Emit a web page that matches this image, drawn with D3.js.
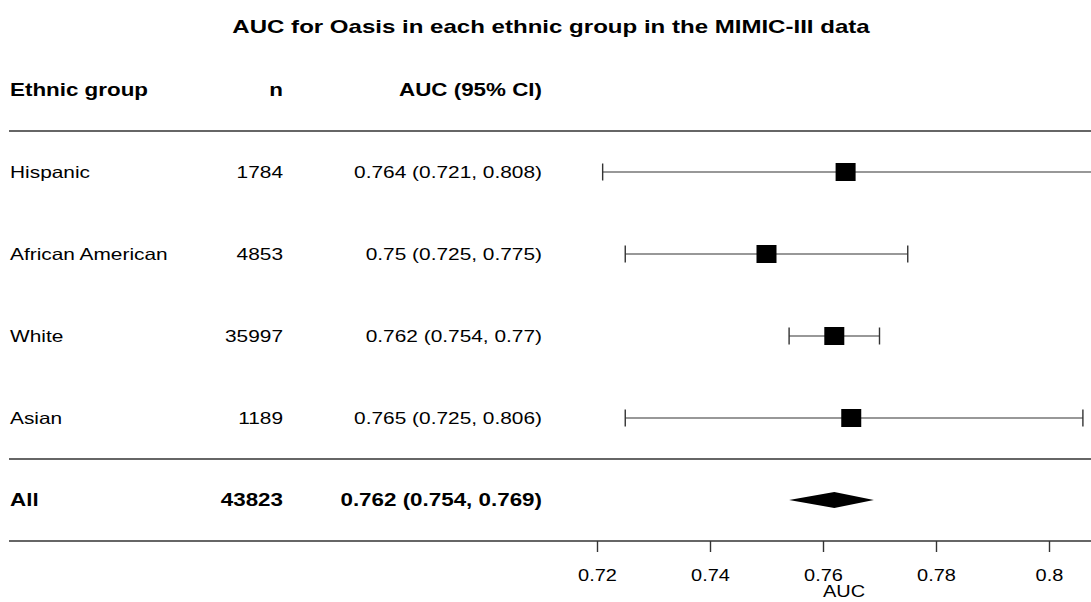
<!DOCTYPE html>
<html>
<head>
<meta charset="utf-8">
<script src="https://cdn.jsdelivr.net/npm/d3@7"></script>
<style>
  html, body { margin: 0; padding: 0; background: #fff; }
  svg { display: block; }
</style>
</head>
<body>
<div id="forest"></div>
<script>
////////////////////////////////////////////////////////////////////////////////
///////////////////////////////////////////////////////////////////////// Data
////////////////////////////////////////////////////////////////////////////////

const groups = ["Hispanic", "African American", "White", "Asian"];
const counts = [1784, 4853, 35997, 1189];
const auc = [0.764, 0.75, 0.762, 0.765];
const lower = [0.721, 0.725, 0.754, 0.725];
const upper = [0.808, 0.775, 0.77, 0.806];
const aucLabels = ["0.764 (0.721, 0.808)", "0.75 (0.725, 0.775)", "0.762 (0.754, 0.77)", "0.765 (0.725, 0.806)"];

// summary row
const totalLabel = "All";
const totalCount = 43823;
const totalAuc = 0.762;
const totalLower = 0.754;
const totalUpper = 0.769;
const totalAucLabel = "0.762 (0.754, 0.769)";

const headers = ["Ethnic group", "n", "AUC (95% CI)"];
const xTicks = [0.72, 0.74, 0.76, 0.78, 0.8];
const xTickLabels = ["0.72", "0.74", "0.76", "0.78", "0.8"];

////////////////////////////////////////////////////////////////////////////////
///////////////////////////////////////////////////////////////////////// Setup
////////////////////////////////////////////////////////////////////////////////

const width = 1091;
const height = 602;
const font = "'Liberation Sans', Arial, Helvetica, sans-serif";
const stretch = 1.28; // the original picture is wider than tall
const lineColor = "#333";

const svg = d3.select("#forest")
              .append("svg")
                .attr("width", width)
                .attr("height", height);

// x: AUC scale, y: row index (0 = header, 1..4 groups, 5 = summary)
const xScale = d3.scaleLinear()
                 .domain([0.72, 0.8])
                 .range([597, 1049]);
const yScale = d3.scaleLinear()
                 .domain([0, 5])
                 .range([90, 500]);

// columns
const colName = 10;
const colN = 283;
const colAuc = 542;

function addText(x, y, str, size, weight, anchor) {
  // y is the row centre, shift to baseline
  return svg.append("text")
            .attr("transform", `translate(${x},${y + size * 0.358}) scale(${stretch},1)`)
            .attr("text-anchor", anchor)
            .style("font-family", font)
            .style("font-size", size + "px")
            .style("font-weight", weight)
            .style("fill", "#000")
            .text(str);
}

////////////////////////////////////////////////////////////////////////////////
///////////////////////////////////////////////////////////////////////// Table
////////////////////////////////////////////////////////////////////////////////

// title
addText(551, 26, "AUC for Oasis in each ethnic group in the MIMIC-III data", 18.8, "bold", "middle");

// header row
addText(colName, yScale(0), headers[0], 17.5, "bold", "start");
addText(colN, yScale(0), headers[1], 17.5, "bold", "end");
addText(colAuc, yScale(0), headers[2], 17.5, "bold", "end");

// group rows
groups.forEach(function(g, i) {
  addText(colName, yScale(i + 1), g, 16.3, "normal", "start");
  addText(colN, yScale(i + 1), counts[i], 16.3, "normal", "end");
  addText(colAuc, yScale(i + 1), aucLabels[i], 16.3, "normal", "end");
});

// summary row
addText(colName, yScale(5), totalLabel, 17.5, "bold", "start");
addText(colN, yScale(5), totalCount, 17.5, "bold", "end");
addText(colAuc, yScale(5), totalAucLabel, 17.5, "bold", "end");

// horizontal rules
svg.selectAll(".rule")
   .data([0.5, 4.5, 5.5])
   .join("line")
     .attr("class", "rule")
     .attr("x1", 9)
     .attr("x2", width)
     .attr("y1", d => yScale(d))
     .attr("y2", d => yScale(d))
     .attr("stroke", lineColor)
     .attr("stroke-width", 1.4);

////////////////////////////////////////////////////////////////////////////////
//////////////////////////////////////////////////////////////////// Forest plot
////////////////////////////////////////////////////////////////////////////////

const rows = groups.map(function(g, i) {
  return {name: g, est: auc[i], lo: lower[i], hi: upper[i], y: yScale(i + 1)};
});

// CI lines
svg.selectAll(".ci")
   .data(rows)
   .join("line")
     .attr("class", "ci")
     .attr("x1", d => xScale(d.lo))
     .attr("x2", d => xScale(d.hi))
     .attr("y1", d => d.y)
     .attr("y2", d => d.y)
     .attr("stroke", lineColor)
     .attr("stroke-width", 1.2);

// whisker caps
const caps = [];
rows.forEach(function(d) {
  caps.push({x: xScale(d.lo), y: d.y});
  caps.push({x: xScale(d.hi), y: d.y});
});
svg.selectAll(".cap")
   .data(caps)
   .join("line")
     .attr("class", "cap")
     .attr("x1", d => d.x)
     .attr("x2", d => d.x)
     .attr("y1", d => d.y - 8.5)
     .attr("y2", d => d.y + 8.5)
     .attr("stroke", lineColor)
     .attr("stroke-width", 1.4);

// point estimates
svg.selectAll(".box")
   .data(rows)
   .join("rect")
     .attr("class", "box")
     .attr("x", d => xScale(d.est) - 10)
     .attr("y", d => d.y - 9)
     .attr("width", 20)
     .attr("height", 18)
     .attr("fill", "#000");

// summary diamond
const ySum = yScale(5);
svg.append("path")
   .attr("d", d3.line()([
     [xScale(totalLower), ySum],
     [xScale(totalAuc), ySum - 8],
     [xScale(totalUpper), ySum],
     [xScale(totalAuc), ySum + 8]
   ]) + "Z")
   .attr("fill", "#000");

////////////////////////////////////////////////////////////////////////////////
////////////////////////////////////////////////////////////////////////// Axis
////////////////////////////////////////////////////////////////////////////////

const xAxis = d3.axisBottom(xScale)
                .tickValues(xTicks)
                .tickSize(11)
                .tickFormat((d, i) => xTickLabels[i]);

const axisG = svg.append("g")
                 .attr("transform", `translate(0,${yScale(5.5)})`)
                 .call(xAxis);
axisG.select(".domain").remove();
axisG.selectAll(".tick line")
     .attr("stroke", lineColor)
     .attr("stroke-width", 1.4);
axisG.selectAll(".tick text")
     .attr("y", 0)
     .attr("dy", 0)
     .attr("transform", `translate(0,40) scale(${stretch},1)`)
     .style("font-family", font)
     .style("font-size", "15.6px")
     .style("fill", "#000");

// axis label, centred over the plot area
addText((xScale.range()[0] + width) / 2, 591, "AUC", 15.6, "normal", "middle");
</script>
</body>
</html>
